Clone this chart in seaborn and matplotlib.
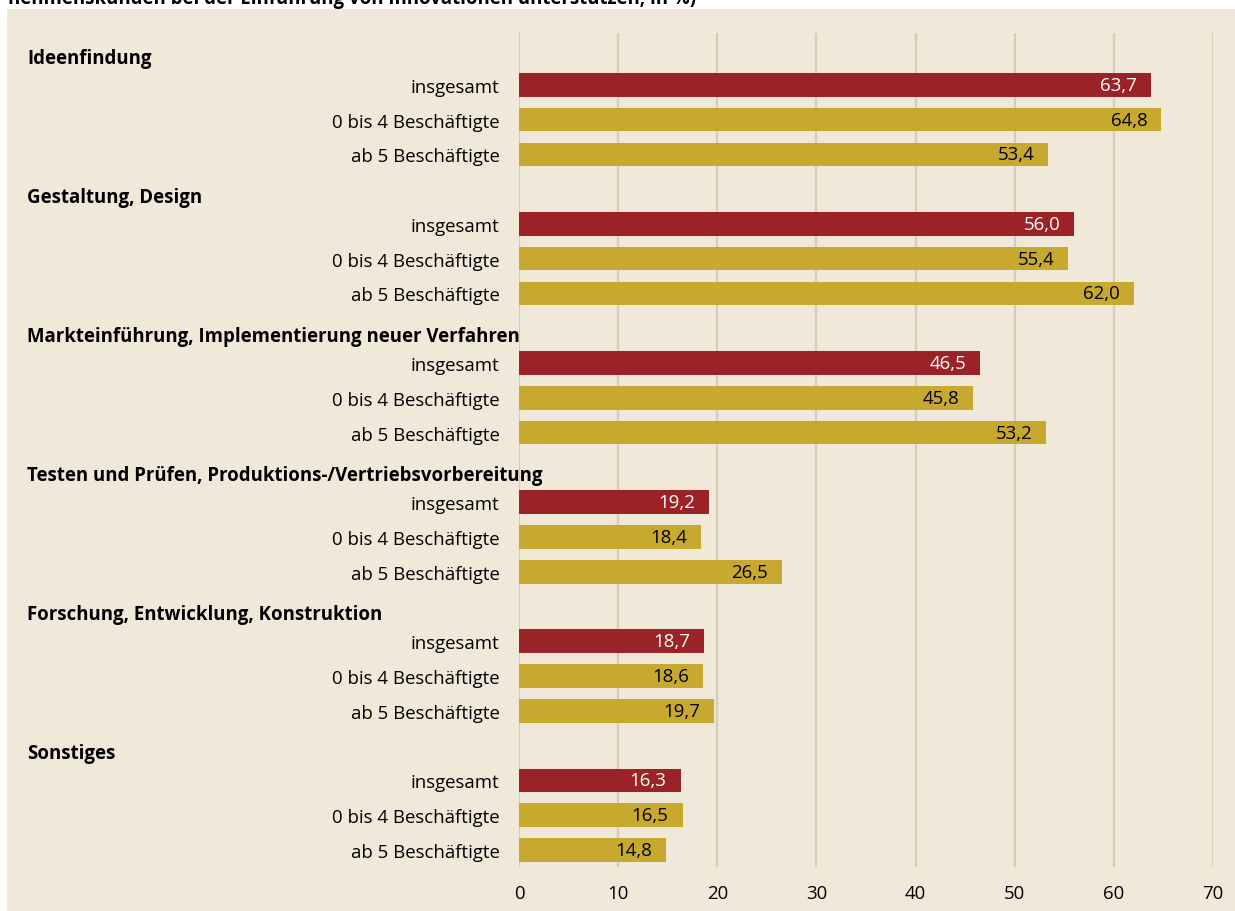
import matplotlib
matplotlib.use('Agg')
import matplotlib.pyplot as plt
import matplotlib.transforms as mtransforms
from matplotlib.patches import Rectangle
import seaborn as sns
import pandas as pd


# Data
groups = ['Ideenfindung', 'Gestaltung, Design',
          'Markteinführung, Implementierung neuer Verfahren',
          'Testen und Prüfen, Produktions-/Vertriebsvorbereitung',
          'Forschung, Entwicklung, Konstruktion', 'Sonstiges']
sub_labels = ['insgesamt', '0 bis 4 Beschäftigte', 'ab 5 Beschäftigte']
insgesamt = [63.7, 56.0, 46.5, 19.2, 18.7, 16.3]
bis4 = [64.8, 55.4, 45.8, 18.4, 18.6, 16.5]
ab5 = [53.4, 62.0, 53.2, 26.5, 19.7, 14.8]
x_ticks = [0, 10, 20, 30, 40, 50, 60, 70]
title_tail = 'nehmenskunden bei der Einführung von Innovationen unterstützen, in %)'

BG = '#F0E8D8'
RED = '#9B2327'
GOLD = '#C8A930'
GRID = '#D6CDB2'
FS = 13.4

# Build long table: each group takes a header slot and three bar slots
rows = []
header_pos = []
for i, g in enumerate(groups):
    base = i * 4
    header_pos.append(base)
    for j, (lab, vals) in enumerate(zip(sub_labels, [insgesamt, bis4, ab5])):
        rows.append({'pos': base + j + 1, 'label': lab, 'value': vals[i],
                     'kind': 'total' if j == 0 else 'size'})
df = pd.DataFrame(rows)

sns.set_style('white')
plt.rcParams['font.family'] = ['Open Sans', 'DejaVu Sans']
plt.rcParams['text.color'] = 'black'
plt.rcParams['xtick.color'] = 'black'
plt.rcParams['ytick.color'] = 'black'

fig = plt.figure(figsize=(12.35, 9.12), dpi=100)
fig.patch.set_facecolor('white')
fig.patches.append(Rectangle((7 / 1235, 0), 1 - 7 / 1235, 1 - 10 / 912,
                             transform=fig.transFigure, facecolor=BG,
                             edgecolor='none', zorder=-5))

ax = fig.add_axes([519 / 1235, 1 - 868.3 / 912, 694 / 1235, (868.3 - 33.6) / 912])
ax.set_facecolor('none')

sns.barplot(data=df, x='value', y='pos', hue='kind', orient='h',
            native_scale=True, dodge=False, width=0.68, saturation=1,
            palette={'total': RED, 'size': GOLD}, legend=False,
            edgecolor='none', ax=ax, zorder=3)

ax.set_xlim(0, 70)
ax.set_ylim(23.5, -0.5)
ax.set_xticks(x_ticks)
ax.set_xticklabels([str(t) for t in x_ticks], fontsize=FS)
ax.xaxis.grid(True, color=GRID, linewidth=1.6, zorder=0)
ax.set_axisbelow(True)
for s in ax.spines.values():
    s.set_visible(False)
ax.tick_params(axis='both', length=0)
ax.tick_params(axis='x', pad=12)
ax.tick_params(axis='y', pad=14)
ax.set_yticks(df['pos'])
ax.set_yticklabels(df['label'], fontsize=FS)
ax.set_xlabel('')
ax.set_ylabel('')

# value labels inside bar ends
for _, r in df.iterrows():
    txt = f"{r['value']:.1f}".replace('.', ',')
    ax.annotate(txt, (r['value'], r['pos']), xytext=(-14, 0),
                textcoords='offset pixels', ha='right', va='center',
                fontsize=FS, color='white' if r['kind'] == 'total' else 'black',
                zorder=5)

# group headers
trans = mtransforms.blended_transform_factory(fig.transFigure, ax.transData)
for g, p in zip(groups, header_pos):
    ax.text(27 / 1235, p + 0.22, g, transform=trans, ha='left', va='center',
            fontsize=FS, fontweight='bold', clip_on=False)

# title line cut at the top of the picture
fig.text(8 / 1235, 1 - 4 / 912, title_tail, ha='left', va='baseline',
         fontsize=FS, fontweight='bold')

fig.savefig('out.png', dpi=100, facecolor='white')
